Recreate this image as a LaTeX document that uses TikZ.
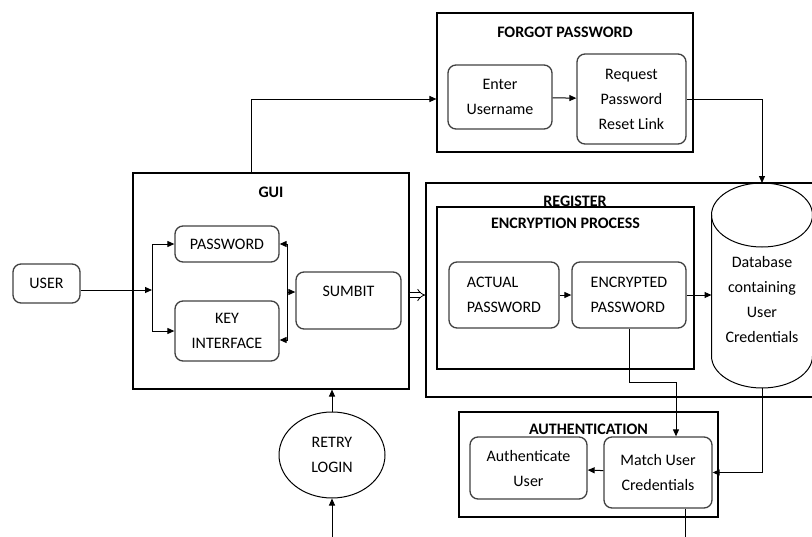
\documentclass[tikz,border=0pt]{standalone}
\usepackage{fontspec}
\setmainfont{Carlito}
\usepackage{tikz}
\usetikzlibrary{positioning,arrows.meta,shapes.geometric}

\begin{document}
\begin{tikzpicture}[x=1pt, y=-1pt, align=center,
        font=\fontsize{16}{25}\selectfont,
        >={Triangle[length=7pt,width=6pt]},
        group/.style={draw, line width=1.1pt},
        procbox/.style={draw=black!75, line width=1.3pt, rounded corners=8pt},
        title/.style={font=\fontsize{16}{25}\selectfont\bfseries},
        link/.style={->, line width=1pt}]
        \useasboundingbox (0,0) rectangle (812,536);
        \clip (0,0) rectangle (812,536);

        % containers
        \node [group, minimum width=276pt, minimum height=216pt] (gui) at (271,281) {};
        \node [title] (guititle) at ([yshift=-20pt]gui.north) {GUI};

        \node [group, minimum width=256pt, minimum height=139pt] (forgot) at (565,82.5) {};
        \node [title] (forgottitle) at ([yshift=-20pt]forgot.north) {FORGOT PASSWORD};

        \node [group, minimum width=392pt, minimum height=214pt] (register) at (622,290) {};
        \node [group, minimum width=257pt, minimum height=162pt] (encrypt) at (565.5,288) {};
        \node [title] (registertitle) at (575,201) {REGISTER};
        \node [title] (encrypttitle) at ([yshift=-17pt]encrypt.north) {ENCRYPTION PROCESS};

        \node [group, minimum width=259pt, minimum height=105pt] (auth) at (588.5,464.5) {};
        \node [title] (authtitle) at ([yshift=-18pt]auth.north) {AUTHENTICATION};

        % process steps
        \node [procbox, minimum width=67pt, minimum height=39pt] (user) at (46.5,283.5) {USER};
        \node [procbox, minimum width=104pt, minimum height=36pt] (pwd) at (227,244) {PASSWORD};
        \node [procbox, minimum width=104pt, minimum height=60pt] (keyif) at (227,331) {KEY\\INTERFACE};
        \node [procbox, minimum width=105pt, minimum height=57pt] (submit) at (348.5,300.5) {};
        \node [yshift=9pt] (submitlbl) at (submit) {SUMBIT};

        \node [procbox, minimum width=104pt, minimum height=64pt] (enter) at (500,97) {Enter\\Username};
        \node [procbox, minimum width=109pt, minimum height=90pt] (request) at (631.5,99) {Request\\Password\\Reset Link};

        \node [procbox, align=left, minimum width=110pt, minimum height=66pt] (actual) at (504,295) {ACTUAL\\PASSWORD};
        \node [procbox, align=left, minimum width=114pt, minimum height=66pt] (encrypted) at (629,295) {ENCRYPTED\\PASSWORD};

        % database drum
        \node [inner sep=0pt, outer sep=0pt, minimum width=101pt, minimum height=205pt] (db) at (762,285.5) {};
        \draw[line width=1pt] ([yshift=-32pt]db.north west) -- ([yshift=32pt]db.south west)
            arc[start angle=180, end angle=360, x radius=50.5pt, y radius=32pt] -- ([yshift=-32pt]db.north east);
        \draw[line width=1pt] ([yshift=-32pt]db.north) ellipse [x radius=50.5pt, y radius=32pt];
        \node (dblbl) at ([yshift=-14pt]db.center) {Database\\containing\\User\\Credentials};

        \node [procbox, minimum width=117pt, minimum height=62pt] (authuser) at (528.5,468) {Authenticate\\User};
        \node [procbox, minimum width=108pt, minimum height=71pt] (match) at (658,472.5) {Match User\\Credentials};

        \node [draw, line width=1pt, ellipse, minimum width=106pt, minimum height=86pt] (retry) at (332,455) {RETRY\\LOGIN};

        % free ends and bends
        \coordinate (split) at (152,290);
        \coordinate (merge) at (287,292);
        \coordinate (gate) at (418,295);
        \coordinate (retryin) at (332,545);
        \coordinate (authout) at (685,545);

        % connectors
        \draw[link] ([yshift=-6.5pt]user.east) -- (split);
        \draw[link] (split) |- (pwd.west);
        \draw[link] (split) |- (keyif.west);
        \draw[link] (merge) |- (pwd.east);
        \draw[link] (merge) |- ([yshift=-9pt]keyif.east);
        \draw[link] (merge) -- (merge -| submit.west);
        \draw[double, double distance=3.5pt, line width=0.8pt, -{Implies}] (gui.east |- gate) -- (register.west |- gate);

        \draw[link] ([xshift=-20pt]gui.north) |- (forgot.west |- request);
        \draw[link] (enter) -- (request);
        \draw[link] (request.east) -| (db.north);

        \draw[link] (actual) -- (encrypted);
        \draw[link] (encrypted.east) -- (encrypted.east -| db.west);
        \draw[link] (encrypted.south) -- ++(0,54) -| ([xshift=18pt]match.north);
        \draw[link] (db.south) |- (match.east);
        \draw[link] (match) -- (authuser);
        \draw[line width=1pt] (match.south -| authout) -- (authout);

        \draw[link] (retry) -- (retry |- gui.south);
        \draw[link] (retryin) -- (retry);

    \end{tikzpicture}
\end{document}
